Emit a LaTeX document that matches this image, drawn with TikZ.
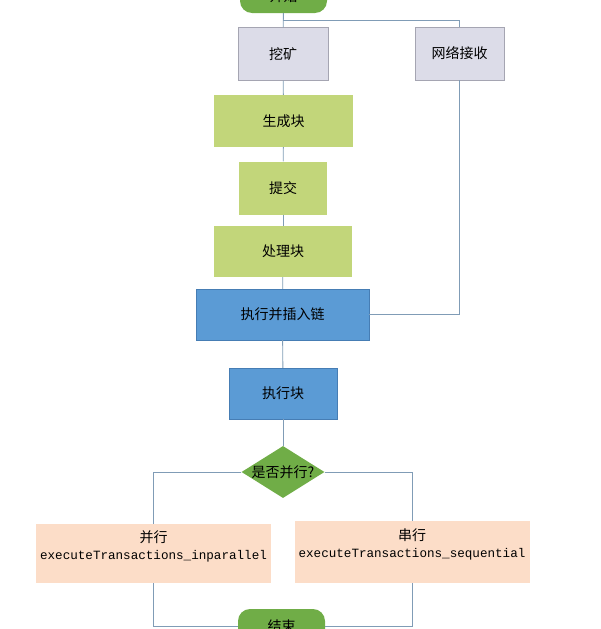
\documentclass[tikz,border=0pt]{standalone}
\usepackage{fontspec}
\setmonofont{Liberation Mono}
\newfontfamily\cjk{Noto Sans CJK SC}
\usetikzlibrary{positioning, calc, shapes, shapes.geometric}
\definecolor{linec}{RGB}{128,156,182}
\definecolor{termg}{RGB}{112,173,71}
\definecolor{lav}{RGB}{220,220,232}
\definecolor{lavd}{RGB}{165,165,178}
\definecolor{leaf}{RGB}{194,214,122}
\definecolor{sky}{RGB}{91,155,213}
\definecolor{skyd}{RGB}{70,125,180}
\definecolor{salm}{RGB}{252,221,200}
\tikzset{every node/.style={font=\cjk\fontsize{14}{17}\selectfont, inner sep=0pt}}
\tikzset{term/.style={fill=termg, rounded corners=12, minimum width=87, minimum height=34}}
\tikzset{lavbox/.style={fill=lav, draw=lavd, minimum width=#1, minimum height=53}}
\tikzset{leafbox/.style={fill=leaf, minimum width=#1, minimum height=52}}
\tikzset{skybox/.style={fill=sky, draw=skyd, minimum width=#1, minimum height=51}}
\tikzset{salmbox/.style={fill=salm, align=center, minimum width=235, minimum height=#1}}
\tikzset{decide/.style={diamond, fill=termg, minimum width=83, minimum height=52}}
\tikzset{conn/.style={draw=linec, line width=0.9pt}}
\newcommand{\code}[1]{{\ttfamily\fontsize{12.6}{17}\selectfont #1}}

\begin{document}
\begin{tikzpicture}[x=1pt, y=-1pt]
  \useasboundingbox (0,0) rectangle (600,629);
  \node[term] (start) at (283.5,-4) {开始};
  \node[lavbox=90] (mine) at (283,54) {挖矿};
  \node[lavbox=89] (recv) at (459.5,53.5) {网络接收};
  \node[leafbox=139] (gen) at (283.5,121) {生成块};
  \node[leafbox=88, minimum height=53] (submit) at (283,188) {提交};
  \node[leafbox=138, minimum height=51] (proc) at (283,251.5) {处理块};
  \node[skybox=173] (insert) at (282.5,314.5) {执行并插入链};
  \node[skybox=108] (execblk) at (283,393.5) {执行块};
  \node[decide, label=center:{是否并行?}] (par?) at (283,472) {};
  \node[salmbox=59] (para) at (153.5,553.5)
      {并行\\\code{executeTransactions\_inparallel}\\~};
  \node[salmbox=62] (seq) at (412,552)
      {串行\\\code{executeTransactions\_sequential}\\~};
  \node[term] (end) at (281.5,626) {结束};

  \coordinate (fork) at (283,20);
  \draw[conn] (start) -- (mine);
  \draw[conn] (fork) -| (recv);
  \draw[conn] (mine) -- (gen);
  \draw[conn] (gen) -- (submit);
  \draw[conn] (submit) -- (proc);
  \draw[conn] (proc) -- (insert);
  \draw[conn] (recv) |- (insert);
  \draw[conn] (insert) -- (execblk);
  \draw[conn] (execblk) -- (par?);
  \draw[conn] (par?) -| (para);
  \draw[conn] (par?) -| (seq);
  \draw[conn] (para) |- (end);
  \draw[conn] (seq) |- (end);
\end{tikzpicture}
\end{document}
